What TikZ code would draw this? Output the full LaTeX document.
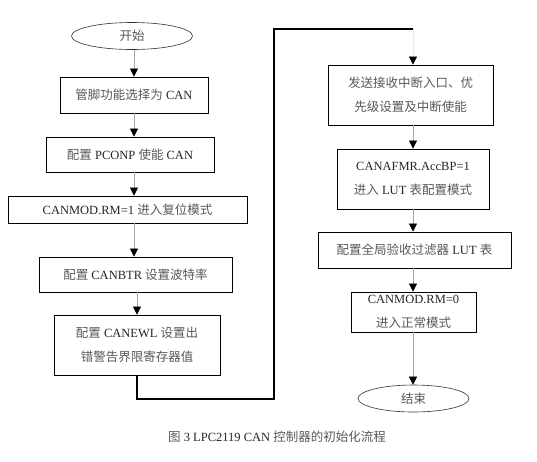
\documentclass[tikz,border=0pt]{standalone}
\usepackage{fontspec}
\setmainfont{Liberation Serif}
\newfontfamily\cjk{Noto Sans CJK SC}
\usetikzlibrary{arrows.meta,shapes.geometric}
\newcommand\zh[1]{{\cjk\color{black!65}#1}}
\tikzset{
  procbox/.style={draw=black,line width=0.9pt,align=center,inner sep=0pt,font=\fontsize{12.5}{24}\selectfont,text=black!85},
  term/.style={draw=black!80,line width=0.6pt,ellipse,inner sep=0pt,font=\fontsize{12.5}{15}\selectfont},
  flow/.style={draw=black!35,line width=0.5pt,-{Triangle[width=8pt,length=8pt,color=black]}},
  loopline/.style={draw=black,line width=1.1pt}
}
\begin{document}
\begin{tikzpicture}[x=1pt,y=-1pt]
\useasboundingbox[fill=white] (0,0) rectangle (537,461);
% left column
\node[term,minimum width=121pt,minimum height=27pt] (start) at (132,36) {\zh{开始}};
\node[procbox,minimum width=148pt,minimum height=36pt] (b1) at (134,95) {\zh{管脚功能选择为} CAN};
\node[procbox,minimum width=168pt,minimum height=35pt] (b2) at (130,154.5) {\zh{配置} PCONP \zh{使能} CAN};
\node[procbox,minimum width=239pt,minimum height=27pt] (b3) at (127.5,209.5) {CANMOD.RM=1 \zh{进入复位模式}};
\node[procbox,minimum width=193pt,minimum height=35pt] (b4) at (135.5,274.5) {\zh{配置} CANBTR \zh{设置波特率}};
\node[procbox,minimum width=166pt,minimum height=60pt] (b5) at (137,345) {\zh{配置} CANEWL \zh{设置出}\\\zh{错警告界限寄存器值}};
% right column
\node[procbox,minimum width=165pt,minimum height=60pt] (b6) at (410.5,95) {\zh{发送接收中断入口、优}\\\zh{先级设置及中断使能}};
\node[procbox,minimum width=152pt,minimum height=60pt] (b7) at (413,179) {CANAFMR.AccBP=1\\\zh{进入} LUT \zh{表配置模式}};
\node[procbox,minimum width=193pt,minimum height=36pt] (b8) at (414.5,250) {\zh{配置全局验收过滤器} LUT \zh{表}};
\node[procbox,minimum width=125pt,minimum height=40pt] (b9) at (413.5,312) {CANMOD.RM=0\\\zh{进入正常模式}};
\node[term,minimum width=111pt,minimum height=27pt] (end) at (413.5,398.5) {\zh{结束}};
% caption
\node[font=\fontsize{12.5}{15}\selectfont,text=black!85] (cap) at (277,437) {\zh{图} 3 LPC2119 CAN \zh{控制器的初始化流程}};
% connectors
\draw[flow] (start.south -| b1.north) -- (b1.north);
\draw[flow] (b1.south) -- (b1.south |- b2.north);
\draw[flow] (b2.south -| b1.south) -- (b1.south |- b3.north);
\draw[flow] (b3.south -| b1.south) -- (b1.south |- b4.north);
\draw[flow] (b4.south -| b5.north) -- (b5.north);
\coordinate (c1) at (137,399);
\coordinate (c2) at (274,399);
\coordinate (c3) at (274,29);
\coordinate (c4) at (413,29);
\draw[loopline] (b5.south) -- (c1) -- (c2) -- (c3) -- (c4);
\draw[draw=black!8,line width=0.5pt,-{Triangle[width=8pt,length=8pt,color=black]}] (c4) -- (c4 |- b6.north);
\draw[flow] (b6.south -| c4) -- (c4 |- b7.north);
\draw[flow] (b7.south -| c4) -- (c4 |- b8.north);
\draw[flow] (b8.south -| c4) -- (c4 |- b9.north);
\draw[flow] (b9.south -| c4) -- (c4 |- end.north);
\end{tikzpicture}
\end{document}
